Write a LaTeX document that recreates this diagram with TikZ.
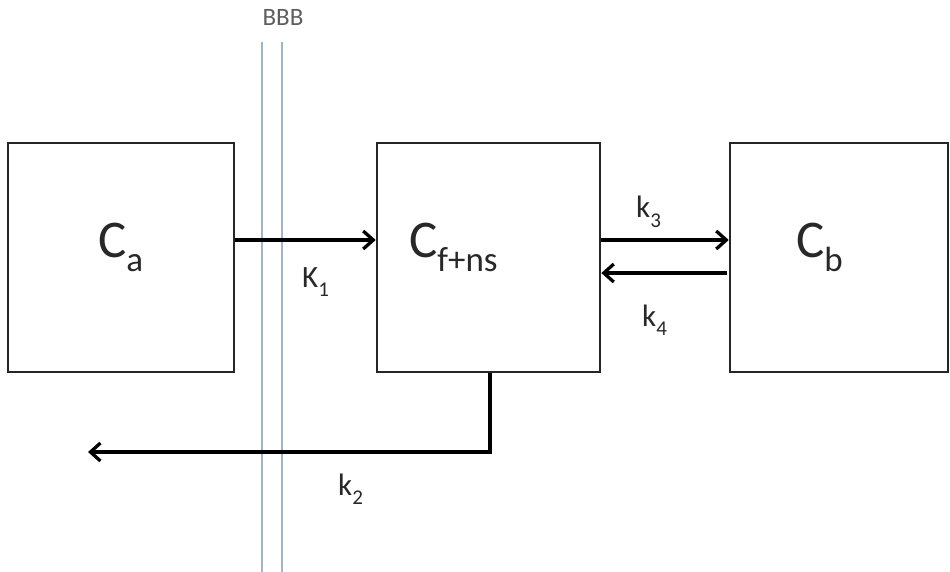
\documentclass[tikz,border=0pt]{standalone}
\usepackage{fontspec}
\setmainfont{Carlito}
\usetikzlibrary{arrows.meta,calc}
\definecolor{bbbline}{RGB}{160,180,196}
\definecolor{txtgray}{RGB}{40,40,40}
\tikzset{
  box/.style={draw=black!85, line width=2.6pt, inner sep=0pt},
  conn/.style={draw=black, line width=3.3pt, -{Straight Barb[length=10pt,width=18pt,line width=3.3pt]}},
  bigtxt/.style={font=\fontsize{53}{53}\selectfont, text=txtgray, inner sep=0pt},
  lbl/.style={font=\fontsize{31}{31}\selectfont, text=txtgray, inner sep=0pt},
  bbbl/.style={draw=bbbline, line width=1.9pt},
}
\newcommand{\mysub}[1]{\raisebox{-0.28em}{\fontsize{35}{35}\selectfont #1}}
\newcommand{\smsub}[1]{\raisebox{-0.3em}{\fontsize{21}{21}\selectfont #1}}
\begin{document}
\begin{tikzpicture}[x=1pt,y=-1pt]
\useasboundingbox (0,0) rectangle (950,572);
% BBB membrane
\coordinate (b1t) at (262,42); \coordinate (b1b) at (262,572);
\coordinate (b2t) at (282,42); \coordinate (b2b) at (282,572);
\draw[bbbl] (b1t) -- (b1b);
\draw[bbbl] (b2t) -- (b2b);
\node[font=\fontsize{25}{25}\selectfont, text=txtgray!75, inner sep=0pt] (bbb) at (283,17) {BBB};
% boxes
\node[box, minimum width=226pt, minimum height=229pt] (ca) at (121,257.5) {};
\node[box, minimum width=223pt, minimum height=229pt] (cf) at (488.5,257.5) {};
\node[box, minimum width=218pt, minimum height=229pt] (cb) at (839,257.5) {};
% box texts
\node[bigtxt, anchor=base west] (tca) at (98,257) {C\mysub{a}};
\node[bigtxt, anchor=base west] (tcf) at (409,257) {C\mysub{f+ns}};
\node[bigtxt, anchor=base west] (tcb) at (796,257) {C\mysub{b}};
% arrows
\draw[conn] (ca.east |- 0,240) -- (cf.west |- 0,240);
\draw[conn] (cf.east |- 0,240) -- (cb.west |- 0,240);
\coordinate (k4s) at (727,273);
\draw[conn] (k4s) -- (cf.east |- k4s);
\coordinate (k2c) at (490,452);
\coordinate (k2e) at (88,452);
\draw[conn] (cf.south -| k2c) -- (k2c) -- (k2e);
% labels
\node[lbl, anchor=base west] (lk1) at (302,287) {K\smsub{1}};
\node[lbl, anchor=base west] (lk3) at (636,218) {k\smsub{3}};
\node[lbl, anchor=base west] (lk4) at (642,326) {k\smsub{4}};
\node[lbl, anchor=base west] (lk2) at (338,495) {k\smsub{2}};
\end{tikzpicture}
\end{document}
